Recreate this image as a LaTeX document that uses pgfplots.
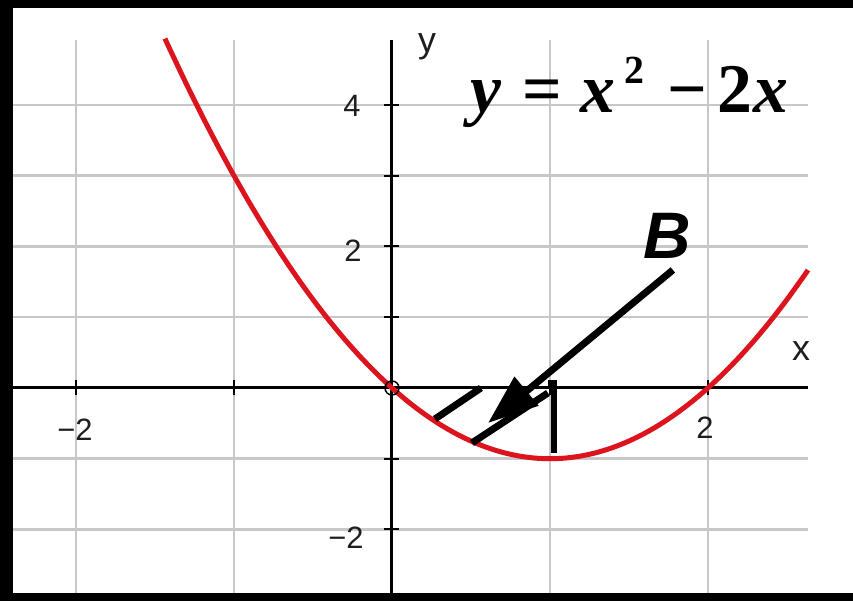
\documentclass[border=0pt]{standalone}
\usepackage{pgfplots}
\pgfplotsset{compat=1.18}
\usetikzlibrary{arrows.meta}
\usepackage{fontspec}
\setmainfont{Liberation Sans}
\newfontfamily\tnr{Liberation Serif}
\definecolor{gridgray}{RGB}{200,200,200}
\definecolor{curvered}{RGB}{220,20,30}
\definecolor{labgray}{RGB}{30,30,30}
\begin{document}
\begin{tikzpicture}
\begin{axis}[
  x=158bp, y=70.75bp,
  xmin=-2.4, xmax=2.633, ymin=-2.897, ymax=4.92,
  axis lines=middle,
  axis line style={-, black, line width=3bp},
  xtick={-2,-1,0,1,2}, ytick={-2,-1,0,1,2,3,4},
  xticklabels=\empty, yticklabels=\empty,
  grid=major,
  grid style={gridgray, line width=2.5bp},
  major tick length=15bp, tick align=center,
  tick style={black, line width=2bp},
  clip=false,
]
\addplot[black, line width=1.5bp, mark=o, mark size=7bp, only marks] coordinates {(0,0)};
\addplot[curvered, line width=5bp, smooth] coordinates {
(-1.437,4.939) (-1.4,4.76) (-1.3,4.29) (-1.2,3.84) (-1.1,3.41) (-1.0,3.0)
(-0.9,2.61) (-0.8,2.24) (-0.7,1.89) (-0.6,1.56) (-0.5,1.25) (-0.4,0.96)
(-0.3,0.69) (-0.2,0.44) (-0.1,0.21) (0,0) (0.1,-0.19) (0.2,-0.36)
(0.3,-0.51) (0.4,-0.64) (0.5,-0.75) (0.6,-0.84) (0.7,-0.91) (0.8,-0.96)
(0.9,-0.99) (1.0,-1.0) (1.1,-0.99) (1.2,-0.96) (1.3,-0.91) (1.4,-0.84)
(1.5,-0.75) (1.6,-0.64) (1.7,-0.51) (1.8,-0.36) (1.9,-0.19) (2.0,0)
(2.1,0.21) (2.2,0.44) (2.3,0.69) (2.4,0.96) (2.5,1.25) (2.6,1.56) (2.633,1.667)
};
% annotation segments
\addplot[black, line width=7bp] coordinates {(0.272,-0.438) (0.563,0.0)};
\addplot[black, line width=7bp] coordinates {(0.506,-0.777) (0.987,-0.071)};
\addplot[black, line width=6bp] coordinates {(0.99,0.07) (1.025,0.07) (1.025,-0.92)};
\addplot[black, line width=7bp, -{Triangle[length=50bp, width=36bp]}] coordinates {(1.778,1.668) (0.608,-0.495)};
% tick labels
\node[labgray, font=\fontsize{31}{34}\selectfont] at (axis cs:-2.006,-0.594) {−2};
\node[labgray, font=\fontsize{31}{34}\selectfont] at (axis cs:1.981,-0.565) {2};
\node[labgray, font=\fontsize{31}{34}\selectfont] at (axis cs:-0.253,3.986) {4};
\node[labgray, font=\fontsize{31}{34}\selectfont] at (axis cs:-0.247,1.936) {2};
\node[labgray, font=\fontsize{31}{34}\selectfont] at (axis cs:-0.291,-2.12) {−2};
\node[labgray, font=\fontsize{36}{40}\selectfont] at (axis cs:2.589,0.523) {x};
\node[labgray, font=\fontsize{36}{40}\selectfont] at (axis cs:0.222,4.82) {y};
% equation
\node[anchor=base, font=\fontsize{70}{76}\selectfont\tnr\bfseries\itshape] at (axis cs:0.595,3.887) {y};
\node[anchor=base, font=\fontsize{70}{76}\selectfont\tnr\bfseries] at (axis cs:0.949,3.887) {=};
\node[anchor=base, font=\fontsize{70}{76}\selectfont\tnr\bfseries\itshape] at (axis cs:1.304,3.887) {x};
\node[anchor=base, font=\fontsize{40}{44}\selectfont\tnr\bfseries] at (axis cs:1.532,4.30) {2};
\node[anchor=base, font=\fontsize{70}{76}\selectfont\tnr\bfseries] at (axis cs:1.867,3.887) {−};
\node[anchor=base, font=\fontsize{70}{76}\selectfont\tnr\bfseries] at (axis cs:2.171,3.887) {2};
\node[anchor=base, font=\fontsize{70}{76}\selectfont\tnr\bfseries\itshape] at (axis cs:2.399,3.887) {x};
% B label
\node[anchor=base, font=\fontsize{66}{70}\selectfont\bfseries\itshape] at (axis cs:1.741,1.837) {B};
% frame coordinates
\coordinate (BL) at (axis cs:-2.481,-3.01);
\coordinate (TR) at (axis cs:2.918,5.484);
\coordinate (LB) at (axis cs:-2.399,-3.01);
\coordinate (TB) at (axis cs:2.918,5.371);
\coordinate (BB) at (axis cs:2.918,-2.897);
\coordinate (TL) at (axis cs:-2.481,5.484);
\end{axis}
\fill[black] (BL) rectangle (LB |- TR);
\fill[black] (TL |- TB) rectangle (TR);
\fill[black] (BL) rectangle (BB);
\pgfresetboundingbox
\path[use as bounding box] (BL) rectangle (TR);
\end{tikzpicture}
\end{document}
